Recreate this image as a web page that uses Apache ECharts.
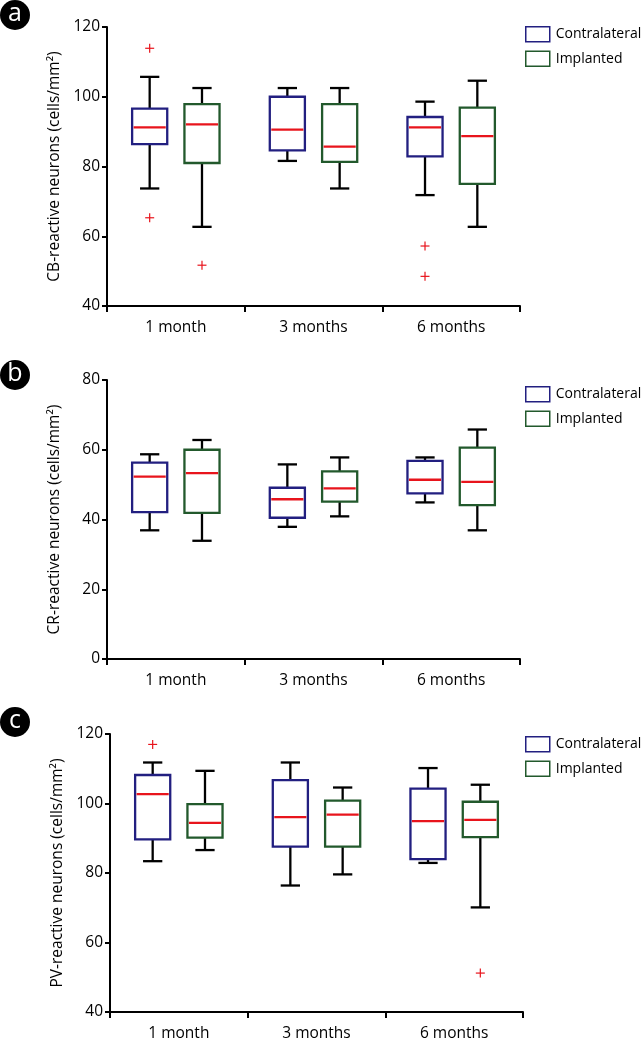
<!DOCTYPE html>
<html>
<head>
<meta charset="utf-8">
<script src="https://cdn.jsdelivr.net/npm/echarts@6/dist/echarts.min.js"></script>
<style>
html,body{margin:0;padding:0;background:#fff;}
#chart{width:642px;height:1042px;}
</style>
</head>
<body>
<div id="chart"></div>
<script>
// ---- data ----
const categories = ['1 month', '3 months', '6 months'];
const seriesNames = ['Contralateral', 'Implanted'];
// [low whisker, Q1, median, Q3, high whisker]
const cbContra = [[73.7, 86.4, 91.2, 96.6, 105.7], [81.6, 84.6, 90.6, 100.0, 102.5], [71.8, 82.9, 91.2, 94.2, 98.6]];
const cbImpl = [[62.7, 81.0, 92.1, 97.9, 102.5], [73.7, 81.3, 85.7, 97.9, 102.5], [62.7, 75.0, 88.7, 96.9, 104.6]];
const cbOutContra = [[0, 113.9], [0, 65.3], [2, 57.2], [2, 48.5]];
const cbOutImpl = [[0, 51.7]];
const crContra = [[36.9, 42.1, 52.3, 56.3, 58.7], [37.9, 40.5, 45.8, 49.1, 55.8], [44.9, 47.5, 51.4, 56.8, 57.8]];
const crImpl = [[33.9, 41.9, 53.3, 60.0, 62.8], [40.9, 45.1, 48.9, 53.8, 57.8], [36.9, 44.1, 50.8, 60.6, 65.8]];
const crOutContra = [];
const crOutImpl = [];
const pvContra = [[83.4, 89.7, 102.7, 108.2, 111.8], [76.4, 87.6, 96.1, 106.7, 111.8], [82.9, 84.0, 94.9, 104.3, 110.2]];
const pvImpl = [[86.6, 90.2, 94.4, 99.8, 109.4], [79.6, 87.6, 96.8, 100.8, 104.6], [70.1, 90.3, 95.3, 100.5, 105.4]];
const pvOutContra = [[0, 117.0]];
const pvOutImpl = [[2, 51.2]];
const yTicksA = {min: 40, max: 120, interval: 20};
const yTicksB = {min: 0, max: 80, interval: 20};
const yTicksC = {min: 40, max: 120, interval: 20};
const yNames = ['CB-reactive neurons (cells/mm²)', 'CR-reactive neurons (cells/mm²)', 'PV-reactive neurons (cells/mm²)'];
const panelLetters = ['a', 'b', 'c'];

// ---- style ----
const FONT = 'Open Sans';
const COLORS = ['#221f80', '#22592c'];
const MEDIAN = '#e8141c';
const OFFSETS = [-0.19, 0.19];

const panels = [
  {box: [cbContra, cbImpl], out: [cbOutContra, cbOutImpl], y: yTicksA, grid: {left: 107, top: 27, width: 413, height: 279}, legendTop: 26, circle: [15, 15]},
  {box: [crContra, crImpl], out: [crOutContra, crOutImpl], y: yTicksB, grid: {left: 107, top: 380, width: 413, height: 279}, legendTop: 386, circle: [15, 375]},
  {box: [pvContra, pvImpl], out: [pvOutContra, pvOutImpl], y: yTicksC, grid: {left: 110, top: 734, width: 413, height: 279}, legendTop: 736, circle: [15, 722]}
];

function boxRender(si) {
  return function (params, api) {
    const cat = api.value(0);
    const band = api.size([1, 0])[0];
    const cx = api.coord([cat, api.value(3)])[0] + OFFSETS[si] * band;
    const w = band * 0.255;
    const cap = band * 0.14;
    const yLow = api.coord([cat, api.value(1)])[1];
    const yQ1 = api.coord([cat, api.value(2)])[1];
    const yMed = api.coord([cat, api.value(3)])[1];
    const yQ3 = api.coord([cat, api.value(4)])[1];
    const yHigh = api.coord([cat, api.value(5)])[1];
    const blk = {stroke: '#000', lineWidth: 2.3};
    return {
      type: 'group',
      children: [
        {type: 'line', shape: {x1: cx, y1: yHigh, x2: cx, y2: yQ3}, style: blk},
        {type: 'line', shape: {x1: cx, y1: yQ1, x2: cx, y2: yLow}, style: blk},
        {type: 'line', shape: {x1: cx - cap / 2, y1: yHigh, x2: cx + cap / 2, y2: yHigh}, style: blk},
        {type: 'line', shape: {x1: cx - cap / 2, y1: yLow, x2: cx + cap / 2, y2: yLow}, style: blk},
        {type: 'rect', shape: {x: cx - w / 2, y: yQ3, width: w, height: yQ1 - yQ3}, style: {fill: '#fff', stroke: COLORS[si], lineWidth: 2.3}},
        {type: 'line', shape: {x1: cx - w / 2 + 1.5, y1: yMed, x2: cx + w / 2 - 1.5, y2: yMed}, style: {stroke: MEDIAN, lineWidth: 2.3}}
      ]
    };
  };
}

function outRender(si) {
  return function (params, api) {
    const cat = api.value(0);
    const band = api.size([1, 0])[0];
    const p = api.coord([cat, api.value(1)]);
    const cx = p[0] + OFFSETS[si] * band;
    const s = 4.5;
    const st = {stroke: MEDIAN, lineWidth: 1.2};
    return {
      type: 'group',
      children: [
        {type: 'line', shape: {x1: cx - s, y1: p[1], x2: cx + s, y2: p[1]}, style: st},
        {type: 'line', shape: {x1: cx, y1: p[1] - s, x2: cx, y2: p[1] + s}, style: st}
      ]
    };
  };
}

const option = {
  animation: false,
  backgroundColor: '#fff',
  textStyle: {fontFamily: FONT},
  grid: [], xAxis: [], yAxis: [], series: [], legend: [], graphic: []
};

panels.forEach((p, i) => {
  option.grid.push(Object.assign({containLabel: false}, p.grid));
  option.xAxis.push({
    type: 'category', gridIndex: i, data: categories, boundaryGap: true,
    axisLine: {lineStyle: {color: '#000', width: 2}},
    axisTick: {show: true, length: 6, lineStyle: {color: '#000', width: 2}},
    axisLabel: {color: '#000', fontSize: 15.5, fontFamily: FONT, margin: 14},
    splitLine: {show: false}
  });
  option.yAxis.push({
    type: 'value', gridIndex: i, min: p.y.min, max: p.y.max, interval: p.y.interval,
    name: yNames[i], nameLocation: 'middle', nameGap: 44,
    nameTextStyle: {color: '#000', fontSize: 15.5, fontFamily: FONT},
    axisLine: {show: true, lineStyle: {color: '#000', width: 2}},
    axisTick: {show: true, length: 5, lineStyle: {color: '#000', width: 2}},
    axisLabel: {color: '#000', fontSize: 15.5, fontFamily: FONT, margin: 7},
    splitLine: {show: false}
  });
  [0, 1].forEach(si => {
    option.series.push({
      type: 'custom', name: seriesNames[si], xAxisIndex: i, yAxisIndex: i,
      itemStyle: {color: '#fff', borderColor: COLORS[si], borderWidth: 1.5},
      data: p.box[si].map((v, ci) => [ci].concat(v)),
      encode: {x: 0, y: [1, 2, 3, 4, 5]},
      renderItem: boxRender(si)
    });
    option.series.push({
      type: 'custom', name: 'outliers ' + seriesNames[si], xAxisIndex: i, yAxisIndex: i,
      data: p.out[si],
      encode: {x: 0, y: 1},
      renderItem: outRender(si)
    });
  });
  option.legend.push({
    orient: 'vertical', left: 525, top: p.legendTop, itemWidth: 24, itemHeight: 15, itemGap: 8,
    padding: 0,
    textStyle: {color: '#000', fontSize: 14, fontFamily: FONT, padding: [0, 0, 0, 1]},
    selectedMode: false,
    data: seriesNames.map((n, si) => ({name: n, icon: 'rect', itemStyle: {color: '#fff', borderColor: COLORS[si], borderWidth: 1.5}}))
  });
  option.graphic.push({
    type: 'group', left: p.circle[0] - 15, top: p.circle[1] - 15,
    children: [
      {type: 'circle', shape: {cx: 15, cy: 15, r: 15}, style: {fill: '#000'}},
      {type: 'text', x: 15, y: 14, style: {text: panelLetters[i], fill: '#fff', font: '500 25px "' + FONT + '"', textAlign: 'center', textVerticalAlign: 'middle'}}
    ]
  });
});

const chart = echarts.init(document.getElementById('chart'), null, {renderer: 'canvas'});
chart.setOption(option);
</script>
</body>
</html>
